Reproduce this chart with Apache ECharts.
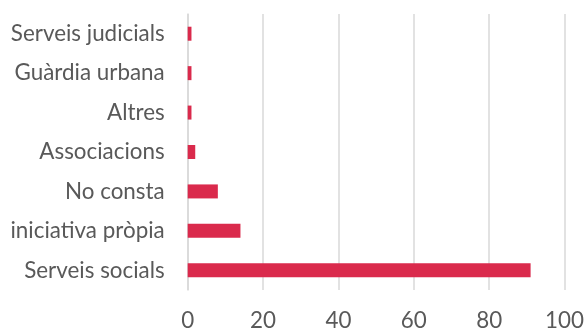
<!DOCTYPE html>
<html><head><meta charset="utf-8">
<script src="https://cdn.jsdelivr.net/npm/echarts@6/dist/echarts.min.js"></script>
<style>html,body{margin:0;padding:0;background:#fff}#c{width:587px;height:332px}</style>
</head><body><div id="c"></div>
<script>
const categories = ['Serveis socials','iniciativa pròpia','No consta','Associacions','Altres','Guàrdia urbana','Serveis judicials'];
const values = [91, 14, 8, 2, 1, 1, 1];
const xTicks = [0, 20, 40, 60, 80, 100];

const chart = echarts.init(document.getElementById('c'), null, {renderer:'canvas'});
const font = 'Lato';
chart.setOption({
  animation:false,
  grid:{left:187.7, right:18.7, top:14, bottom:41, containLabel:false},
  xAxis:{type:'value', min:xTicks[0], max:xTicks[xTicks.length-1], interval:20,
    axisLine:{show:false}, axisTick:{show:false},
    splitLine:{lineStyle:{color:'#D9D9D9', width:1.5}},
    axisLabel:{color:'#595959', fontFamily:font, fontSize:22.4, margin:20}},
  yAxis:{type:'category', data:categories,
    axisLine:{show:true, lineStyle:{color:'#D9D9D9', width:1.5}},
    axisTick:{show:false},
    axisLabel:{color:'#595959', fontFamily:font, fontSize:22.4, margin:23}},
  series:[{type:'bar', data:values, barWidth:14, itemStyle:{color:'#DA2A4C'}}]
});
</script></body></html>
